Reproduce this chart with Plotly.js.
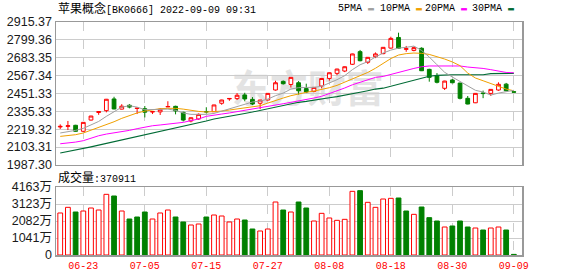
<!DOCTYPE html>
<html>
<head>
<meta charset="utf-8">
<script src="https://cdn.plot.ly/plotly-3.0.1.min.js"></script>
<style>html,body{margin:0;padding:0;background:#fff;}#chart{width:578px;height:276px;}</style>
</head>
<body>
<div id="chart"></div>
<script>
// ---- data ----
var dates = ["06-20","06-21","06-22","06-23","06-24","06-27","06-28","06-29","06-30","07-01",
"07-04","07-05","07-06","07-07","07-08","07-11","07-12","07-13","07-14","07-15",
"07-18","07-19","07-20","07-21","07-22","07-25","07-26","07-27","07-28","07-29",
"08-01","08-02","08-03","08-04","08-05","08-08","08-09","08-10","08-11","08-12",
"08-15","08-16","08-17","08-18","08-19","08-22","08-23","08-24","08-25","08-26",
"08-29","08-30","08-31","09-01","09-02","09-05","09-06","09-07","09-08","09-09"];
var openP = [2234,2238,2245,2206,2279,2328,2340,2416,2350,2375,
2354,2353,2331,2332,2364,2368,2329,2273,2286,2334,
2333,2388,2416,2418,2442,2413,2388,2409,2474,2530,
2510,2521,2483,2465,2500,2549,2582,2597,2641,2723,
2654,2690,2710,2746,2815,2738,2731,2745,2608,2565,
2485,2539,2519,2420,2391,2455,2452,2474,2512,2463];
var highP = [2251,2273,2248,2266,2306,2336,2416,2430,2382,2382,
2358,2370,2336,2357,2401,2372,2333,2296,2322,2362,
2378,2411,2420,2454,2456,2428,2410,2454,2534,2536,
2558,2532,2515,2493,2550,2588,2612,2627,2710,2734,
2688,2718,2753,2820,2846,2760,2756,2751,2612,2584,
2534,2545,2521,2435,2454,2470,2480,2524,2520,2464];
var lowP = [2221,2214,2203,2203,2276,2313,2329,2349,2348,2355,
2318,2296,2318,2312,2363,2316,2270,2264,2281,2322,
2332,2378,2404,2409,2401,2376,2350,2406,2470,2509,
2490,2444,2454,2459,2485,2535,2570,2590,2636,2660,
2643,2681,2706,2744,2743,2722,2725,2597,2528,2517,
2474,2518,2413,2381,2389,2421,2436,2469,2467,2459];
var closeP = [2238,2242,2206,2264,2305,2334,2414,2351,2369,2363,
2356,2330,2334,2349,2367,2338,2279,2294,2316,2332,
2377,2409,2419,2440,2416,2383,2409,2452,2521,2515,
2556,2469,2461,2491,2549,2586,2610,2625,2708,2664,
2686,2708,2751,2809,2745,2742,2749,2599,2556,2524,
2532,2521,2420,2383,2452,2451,2478,2511,2469,2460];
var ma5 = [2195,2203,2212,2225,2249,2270,2303,2335,2363,2372,
2363,2346,2346,2350,2350,2342,2325,2316,2314,2316,
2322,2337,2350,2368,2385,2396,2402,2415,2437,2454,
2480,2489,2491,2491,2498,2519,2541,2567,2606,2638,
2658,2688,2714,2733,2746,2751,2759,2731,2688,2638,
2589,2558,2530,2502,2472,2461,2441,2454,2465,2472];
var ma10 = [2173,2177,2184,2195,2212,2229,2249,2268,2290,2309,
2325,2337,2346,2353,2355,2355,2350,2342,2335,2331,
2333,2337,2344,2350,2357,2363,2372,2389,2407,2422,
2437,2450,2459,2467,2476,2489,2504,2524,2545,2567,
2588,2615,2645,2678,2701,2710,2714,2712,2705,2692,
2675,2656,2632,2584,2552,2534,2515,2498,2480,2469];
var ma20 = [2125,2130,2136,2145,2162,2177,2188,2195,2201,2212,
2223,2234,2242,2247,2253,2257,2264,2275,2286,2303,
2312,2318,2325,2333,2342,2350,2359,2366,2374,2385,
2394,2402,2411,2422,2433,2450,2469,2487,2508,2524,
2541,2556,2562,2576,2589,2601,2614,2625,2630,2630,
2630,2630,2630,2623,2619,2614,2606,2599,2588,2586];
var ma30 = [2065,2074,2084,2094,2105,2116,2127,2140,2152,2163,
2174,2185,2196,2206,2216,2226,2238,2250,2262,2273,
2286,2294,2303,2312,2322,2331,2342,2353,2363,2374,
2385,2394,2400,2409,2418,2424,2431,2439,2450,2459,
2469,2480,2486,2498,2511,2524,2537,2550,2563,2569,
2573,2573,2573,2573,2573,2573,2580,2582,2582,2582];
// volume in 万
var volume = [2572,2919,2633,2694,2878,2755,3715,3613,2694,2204,
2327,2633,2204,2572,2755,2327,2021,1837,1898,2327,
2449,2388,2021,2204,2143,1592,1470,1592,3245,2755,
2633,3245,2878,2082,2551,2266,2123,2184,3898,3939,
3225,2919,3429,3470,3490,2694,2490,2939,2286,2082,
1714,1776,2082,1714,1653,1531,1653,1714,1531,37.09];
// 1 = up (red hollow), 0 = down (green)
var volUp = [1,1,0,1,1,1,1,0,1,0,
0,0,1,1,1,0,0,1,1,0,
1,1,1,1,0,0,1,1,1,0,
1,0,0,1,1,1,1,1,1,0,
1,1,1,1,0,0,1,0,0,0,
1,0,0,0,1,0,1,1,0,0];
var priceTicks = [1987.30,2103.31,2219.32,2335.33,2451.33,2567.34,2683.35,2799.36,2915.37];
var priceTickText = ["1987.30","2103.31","2219.32","2335.33","2451.33","2567.34","2683.35","2799.36","2915.37"];
var volTicks = [0,1041,2082,3123,4163];
var volTickText = ["0","1041万","2082万","3123万","4163万"];
var dateTickLabels = ["06-23","07-05","07-15","07-27","08-08","08-18","08-30","09-09"];

// ---- build ----
var RED = "#ff0000", GREEN = "#008000";
var idx = dates.map(function(d,i){return i;});
var tickIdx = dateTickLabels.map(function(d){return dates.indexOf(d);});
var xr = [-0.55, 60.06];

var traces = [
  {type:"candlestick", x:idx, open:openP, high:highP, low:lowP, close:closeP,
   xaxis:"x", yaxis:"y", whiskerwidth:0,
   increasing:{line:{color:RED,width:1}, fillcolor:"#ffffff"},
   decreasing:{line:{color:GREEN,width:1}, fillcolor:GREEN},
   hoverinfo:"skip", showlegend:false},
  {type:"scatter", mode:"lines", x:idx, y:ma30, xaxis:"x", yaxis:"y", line:{color:"#006b35",width:1.1}, showlegend:false, hoverinfo:"skip"},
  {type:"scatter", mode:"lines", x:idx, y:ma20, xaxis:"x", yaxis:"y", line:{color:"#ff00ff",width:1}, showlegend:false, hoverinfo:"skip"},
  {type:"scatter", mode:"lines", x:idx, y:ma10, xaxis:"x", yaxis:"y", line:{color:"#f0a000",width:1}, showlegend:false, hoverinfo:"skip"},
  {type:"scatter", mode:"lines", x:idx, y:ma5, xaxis:"x", yaxis:"y", line:{color:"#a0a0a0",width:1}, showlegend:false, hoverinfo:"skip"},
  {type:"bar", x:idx, y:volume, xaxis:"x2", yaxis:"y2", width:0.62,
   marker:{color:volUp.map(function(u){return u?"#ffffff":GREEN;}),
           line:{color:volUp.map(function(u){return u?RED:GREEN;}), width:1}},
   showlegend:false, hoverinfo:"skip"}
];

var tickFont = {family:"Liberation Sans, Noto Sans CJK SC, sans-serif", size:12.5, color:"#1a1a1a"};
var monoFont = {family:"Liberation Mono, Noto Sans CJK SC, monospace", size:10, color:"#000"};

function legendItem(label, color, px){
  return {xref:"paper", yref:"paper", x:(px-56)/466, y:(255-9)/233, xanchor:"left", yanchor:"middle",
          showarrow:false, font:monoFont,
          text: label + ' <span style="color:'+color+'">▬</span>'};
}

var layout = {
  width:578, height:276,
  margin:{l:56, r:56, t:22, b:21, pad:0},
  paper_bgcolor:"#ffffff", plot_bgcolor:"#ffffff",
  boxgap:0.3,
  showlegend:false,
  xaxis:{domain:[0,1], anchor:"y", range:xr, tickmode:"array", tickvals:tickIdx, showticklabels:false,
         showgrid:true, gridcolor:"#cccccc", griddash:"dash", gridwidth:1,
         showline:true, mirror:true, linecolor:"#999999", linewidth:1.5, zeroline:false, ticks:"", fixedrange:true,
         rangeslider:{visible:false}},
  yaxis:{domain:[0.3863,1], anchor:"x", range:[1987.30,2915.37], tickmode:"array", tickvals:priceTicks, ticktext:priceTickText,
         showgrid:true, gridcolor:"#cccccc", gridwidth:1, showline:true, mirror:true, linecolor:"#999999", linewidth:1.5,
         zeroline:false, ticks:"", tickfont:tickFont, fixedrange:true},
  xaxis2:{domain:[0,1], anchor:"y2", range:xr, tickmode:"array", tickvals:tickIdx, ticktext:dateTickLabels,
         tickfont:{family:"Liberation Mono, monospace", size:10, color:RED},
         showgrid:true, gridcolor:"#cccccc", griddash:"dash", gridwidth:1,
         showline:true, mirror:true, linecolor:"#999999", linewidth:1.5, zeroline:false, ticks:"", fixedrange:true},
  yaxis2:{domain:[0,0.2918], anchor:"x2", range:[0,4163], tickmode:"array", tickvals:volTicks, ticktext:volTickText,
         showgrid:true, gridcolor:"#cccccc", gridwidth:1, showline:true, mirror:true, linecolor:"#999999", linewidth:1.5,
         zeroline:false, ticks:"", tickfont:tickFont, fixedrange:true},
  shapes:[
    {type:"rect", xref:"paper", yref:"paper", x0:0.33, x1:0.75, y0:0.58, y1:0.82, layer:"below",
     line:{width:0}, fillcolor:"rgba(0,0,0,0)",
     label:{text:"东方财富", textposition:"middle center",
            font:{family:"Noto Sans CJK SC", size:38, color:"#e3e3e3", weight:"bold"}}}
  ],
  annotations:[
    {xref:"paper", yref:"paper", x:0.0, y:(255-9)/233, xanchor:"left", yanchor:"middle", showarrow:false,
     font:monoFont, text:'<span style="font-size:12px">苹果概念</span>[BK0666] 2022-09-09 09:31'},
    legendItem("5PMA", "#a0a0a0", 336),
    legendItem("10PMA", "#f0a000", 378),
    legendItem("20PMA", "#ff00ff", 423),
    legendItem("30PMA", "#006b35", 470),
    {xref:"paper", yref:"paper", x:0.0, y:(255-178)/233, xanchor:"left", yanchor:"middle", showarrow:false,
     font:monoFont, text:'<span style="font-size:12px">成交量</span>:370911'}
  ]
};

Plotly.newPlot("chart", traces, layout, {staticPlot:true, displayModeBar:false});
</script>
</body>
</html>
